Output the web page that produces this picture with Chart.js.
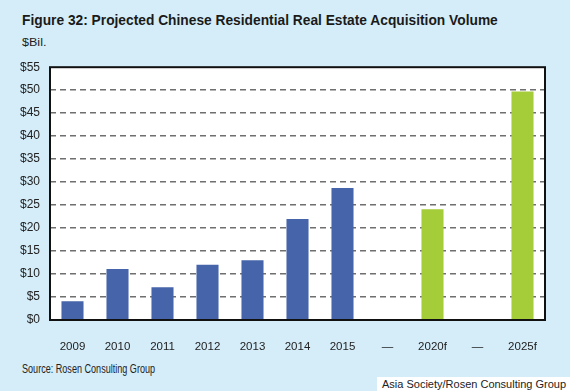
<!DOCTYPE html>
<html>
<head>
<meta charset="utf-8">
<script src="https://cdn.jsdelivr.net/npm/chart.js@4.4.1/dist/chart.umd.min.js"></script>
<style>
  html, body { margin: 0; padding: 0; }
  body { width: 570px; height: 391px; background: #d4edf9; position: relative; overflow: hidden; }
  .narrow { display: inline-block; transform-origin: 0 0; white-space: nowrap; }
  #title { position: absolute; left: 22px; top: 11px; font: bold 15.5px "Liberation Sans", Arial, sans-serif; color: #1a1a1a; }
  #unit { position: absolute; left: 22px; top: 36px; font: 11.5px "Liberation Sans", Arial, sans-serif; color: #222; }
  #source { position: absolute; left: 22px; top: 362px; font: 12px "Liberation Sans", Arial, sans-serif; color: #222; }
  #credit { position: absolute; left: 377px; top: 377px; width: 193px; height: 14px; background: #fff; font: 11px "Liberation Sans", Arial, sans-serif; color: #222; white-space: nowrap; padding-left: 5px; box-sizing: border-box; line-height: 14px; }
  #wrap { position: absolute; left: 0; top: 50px; width: 570px; height: 310px; }
</style>
</head>
<body>
<div id="title" class="narrow" data-w="476">Figure 32: Projected Chinese Residential Real Estate Acquisition Volume</div>
<div id="unit" class="narrow" data-w="24">$Bil.</div>
<div id="wrap"><canvas id="volumeChart"></canvas></div>
<div id="source" class="narrow" data-w="133">Source: Rosen Consulting Group</div>
<div id="credit">Asia Society/Rosen Consulting Group</div>
<script>
const categories = ['2009', '2010', '2011', '2012', '2013', '2014', '2015', '—', '2020f', '—', '2025f'];
const volumes = [4.1, 11.1, 7.1, 12.0, 13.0, 22.0, 28.7, null, 24.1, null, 49.7];
const isForecast = [false, false, false, false, false, false, false, false, true, false, true];
const yTicks = [0, 5, 10, 15, 20, 25, 30, 35, 40, 45, 50, 55];

const BLUE = '#4564a9';
const GREEN = '#a5cc39';

// texte condensé : on resserre horizontalement à la largeur voulue
document.querySelectorAll('.narrow').forEach(el => {
  const w = Number(el.dataset.w);
  el.style.transform = 'scaleX(' + (w / el.offsetWidth) + ')';
});

// fond blanc + cadre noir autour de la zone de tracé
const plotFrame = {
  id: 'plotFrame',
  beforeDraw(chart) {
    const a = chart.chartArea;
    const ctx = chart.ctx;
    ctx.save();
    ctx.fillStyle = '#ffffff';
    ctx.fillRect(a.left, a.top, a.right - a.left, a.bottom - a.top);
    ctx.restore();
  },
  afterDraw(chart) {
    const a = chart.chartArea;
    const ctx = chart.ctx;
    ctx.save();
    ctx.strokeStyle = '#111111';
    ctx.lineWidth = 2;
    ctx.strokeRect(a.left, a.top, a.right - a.left, a.bottom - a.top);
    ctx.restore();
  }
};

const ctx = document.getElementById('volumeChart').getContext('2d');
new Chart(ctx, {
  type: 'bar',
  data: {
    labels: categories,
    datasets: [{
      label: 'Volume ($Bil.)',
      data: volumes,
      backgroundColor: isForecast.map(f => f ? GREEN : BLUE),
      borderWidth: 0,
      barPercentage: 0.98,
      categoryPercentage: 0.5
    }]
  },
  plugins: [plotFrame],
  options: {
    responsive: true,
    maintainAspectRatio: false,
    animation: false,
    layout: { padding: { left: 0, right: 25, top: 16, bottom: 0 } },
    plugins: { legend: { display: false }, tooltip: { enabled: false } },
    scales: {
      x: {
        grid: { display: false },
        border: { display: false },
        ticks: {
          color: '#222',
          padding: 12,
          maxRotation: 0,
          autoSkip: false,
          font: { family: 'Liberation Sans', size: 11.5 }
        },
        afterFit(scale) { scale.height = 40; }
      },
      y: {
        min: 0,
        max: 55,
        afterBuildTicks(scale) { scale.ticks = yTicks.map(v => ({ value: v })); },
        grid: {
          color: ctx => (ctx.tick && (ctx.tick.value === 0 || ctx.tick.value === 55)) ? 'rgba(0,0,0,0)' : '#6f6f6f',
          lineWidth: 1.4,
          drawTicks: false
        },
        border: { display: false, dash: [6, 4] },
        ticks: {
          color: '#222',
          padding: 10,
          font: { family: 'Liberation Sans', size: 12 },
          callback: v => '$' + v
        },
        afterFit(scale) { scale.width = 50; }
      }
    }
  }
});
</script>
</body>
</html>
